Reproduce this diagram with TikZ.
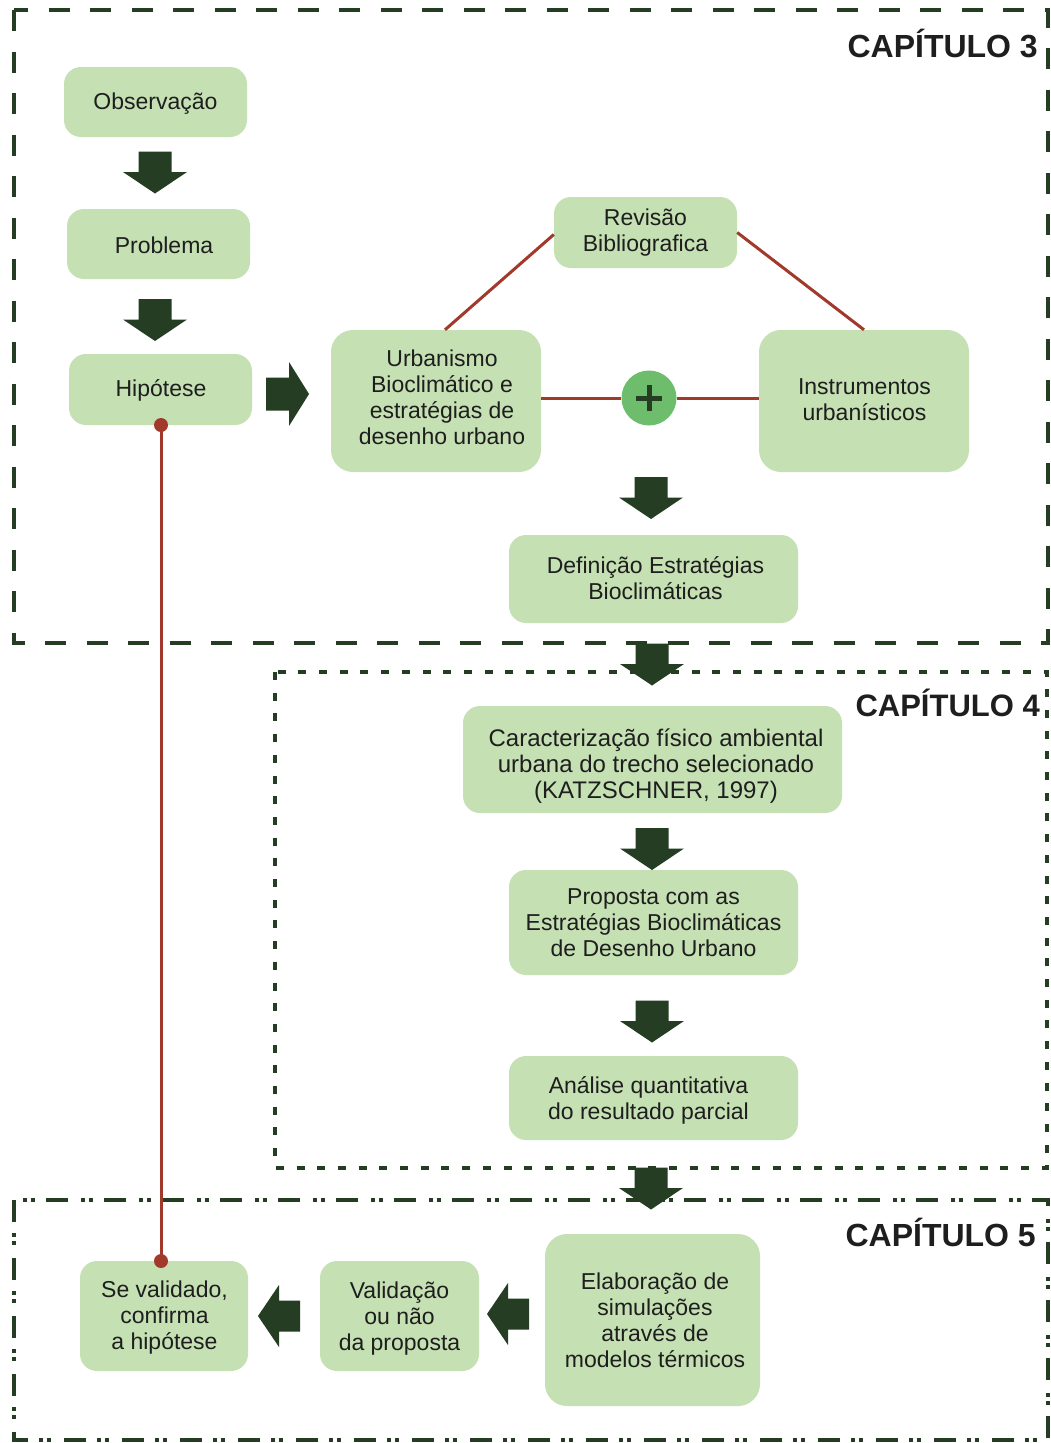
\documentclass[tikz,border=0pt]{standalone}
\usepackage{fontspec}
\setmainfont{Liberation Sans}
\usetikzlibrary{calc}
\definecolor{boxg}{HTML}{C5E0B3}
\definecolor{darkg}{HTML}{243D23}
\definecolor{redl}{HTML}{A13A2B}
\definecolor{plusg}{HTML}{6DBD6D}
\definecolor{txt}{HTML}{1E1E1E}
\newcommand\bxfont{\fontsize{23}{26}\selectfont}
\newcommand\chfont{\fontsize{32}{36}\selectfont\bfseries}
\tikzset{
  bx/.style={fill=boxg, rounded corners=17pt, inner sep=0pt},
  bt/.style={align=center, font=\bxfont, text=txt, inner sep=0pt},
  chlabel/.style={font=\chfont, text=txt, anchor=east, inner sep=0pt},
  redline/.style={draw=redl, line width=3pt},
  chthree/.style={draw=darkg, line width=4.5pt, dash pattern=on 21pt off 20.5pt},
  chfour/.style={draw=darkg, line width=4pt, dash pattern=on 8pt off 12.7pt},
  chfive/.style={draw=darkg, line width=4pt, dash pattern=on 22pt off 11pt on 4pt off 4pt on 4pt off 13pt},
  downarr/.pic={\fill[darkg] (-16.5,-21) -- (16.5,-21) -- (16.5,-0.5) -- (32,-0.5) -- (0,21) -- (-32,-0.5) -- (-16.5,-0.5) -- cycle;},
  rightarr/.pic={\fill[darkg] (-21,-16.5) -- (2,-16.5) -- (2,-32) -- (22,0) -- (2,32) -- (2,16.5) -- (-21,16.5) -- cycle;},
  leftarr/.pic={\fill[darkg] (21,-15.5) -- (0,-15.5) -- (0,-31) -- (-21,0) -- (0,31) -- (0,15.5) -- (21,15.5) -- cycle;}
}
\begin{document}
\begin{tikzpicture}[x=1pt,y=-1pt]
\useasboundingbox (0,0) rectangle (1051,1443);
\fill[white] (0,0) rectangle (1051,1443);

% chapter frames
\draw[chthree] (14,10) rectangle (1048,643);
\draw[chfour] (275,672) rectangle (1047,1168);
\draw[chfive] (14,1200) rectangle (1048,1440);

\node[chlabel] (c3) at (1038,43) {CAPÍTULO 3};
\node[chlabel, font=\fontsize{31}{36}\selectfont\bfseries] (c4) at (1040,703) {CAPÍTULO 4};
\node[chlabel] (c5) at (1036,1232) {CAPÍTULO 5};

% boxes
\node[bx, minimum width=183pt, minimum height=70pt] (obs) at (155.5,102) {};
\node[bt] (obst) at ([shift={(0,2)}]obs.center) {Observação};
\node[bx, minimum width=183pt, minimum height=70pt] (prob) at (158.5,244) {};
\node[bt] (probt) at ([shift={(5.5,1)}]prob.center) {Problema};
\node[bx, minimum width=183pt, minimum height=71pt] (hip) at (160.5,389.5) {};
\node[bt] (hipt) at ([shift={(0.5,1)}]hip.center) {Hipótese};
\node[bx, minimum width=183pt, minimum height=71pt] (rev) at (645.5,232.5) {};
\node[bt] (revt) at ([shift={(0,0)}]rev.center) {Revisão\\Bibliografica};
\node[bx, minimum width=210pt, minimum height=142pt, rounded corners=22pt] (urb) at (436,401) {};
\node[bt] (urbt) at ([shift={(6,-4)}]urb.center) {Urbanismo\\Bioclimático e\\estratégias de\\desenho urbano};
\node[bx, minimum width=210pt, minimum height=142pt, rounded corners=22pt] (ins) at (864,401) {};
\node[bt] (inst) at ([shift={(0.5,-1)}]ins.center) {Instrumentos\\urbanísticos};
\node[bx, minimum width=289pt, minimum height=88pt] (def) at (653.5,579) {};
\node[bt] (deft) at ([shift={(2,-1)}]def.center) {Definição Estratégias\\Bioclimáticas};
\node[bx, minimum width=379pt, minimum height=107pt] (car) at (652.5,759.5) {};
\node[bt, font=\fontsize{24}{26}\selectfont] (cart) at ([shift={(3.5,7)}]car.center) {Caracterização físico ambiental\\urbana do trecho selecionado\\(KATZSCHNER, 1997)};
\node[bx, minimum width=289pt, minimum height=105pt] (prop) at (653.5,922.5) {};
\node[bt] (propt) at ([shift={(0,0.5)}]prop.center) {Proposta com as\\Estratégias Bioclimáticas\\de Desenho Urbano};
\node[bx, minimum width=289pt, minimum height=84pt] (ana) at (653.5,1098) {};
\node[bt] (anat) at ([shift={(-5,2)}]ana.center) {Análise quantitativa\\do resultado parcial};
\node[bx, minimum width=215pt, minimum height=172pt, rounded corners=22pt] (ela) at (652.5,1320) {};
\node[bt] (elat) at ([shift={(2.5,0.5)}]ela.center) {Elaboração de\\simulações\\através de\\modelos térmicos};
\node[bx, minimum width=159pt, minimum height=110pt] (val) at (399.5,1316) {};
\node[bt] (valt) at ([shift={(0,3)}]val.center) {Validação\\ou não\\da proposta};
\node[bx, minimum width=168pt, minimum height=110pt] (se) at (164,1316) {};
\node[bt] (set) at ([shift={(0.5,2)}]se.center) {Se validado,\\confirma\\a hipótese};

% red connectors
\draw[redline] ([xshift=9pt]urb.north) -- ([yshift=-2pt]rev.west);
\draw[redline] (rev.east) -- (ins.north);
\node[circle, fill=plusg, minimum size=55pt, inner sep=0pt] (plus) at (649,398) {};
\draw[redline] (urb.east |- plus) -- (plus.west);
\draw[redline] (plus.east) -- (ins.west |- plus);
\fill[darkg] ([xshift=-13pt,yshift=-2.5pt]plus.center) rectangle ([xshift=13pt,yshift=2.5pt]plus.center);
\fill[darkg] ([xshift=-2.5pt,yshift=-13pt]plus.center) rectangle ([xshift=2.5pt,yshift=13pt]plus.center);

\coordinate (hd) at (161,425);
\coordinate (sd) at (161,1261);
\draw[redline] (hd) -- (sd);
\fill[redl] (hd) circle (7pt);
\fill[redl] (sd) circle (7pt);

% block arrows
\pic at (155,172.5) {downarr};
\pic at (155,320) {downarr};
\pic at (287,394) {rightarr};
\pic at (651,498) {downarr};
\pic at (652,664.5) {downarr};
\pic at (652,849) {downarr};
\pic at (652,1021.5) {downarr};
\pic at (651,1188.5) {downarr};
\pic at (508,1314) {leftarr};
\pic at (279,1316) {leftarr};
\end{tikzpicture}
\end{document}
